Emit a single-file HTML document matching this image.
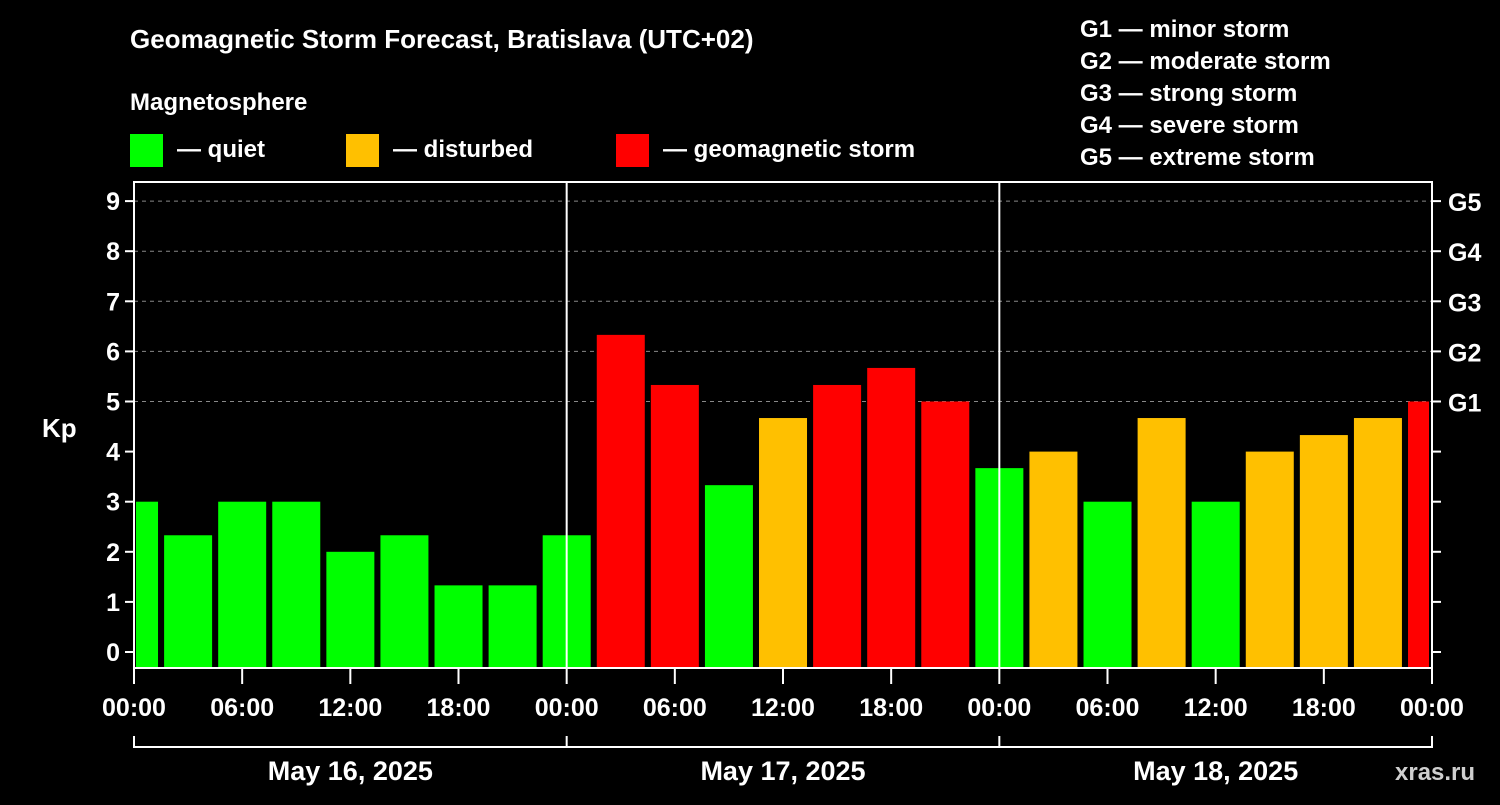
<!DOCTYPE html>
<html><head><meta charset="utf-8"><style>
body{margin:0;background:#000;}
svg text{font-family:"Liberation Sans",Arial,sans-serif;font-weight:bold;fill:#fff;}
</style></head><body>
<svg id="chart" width="1500" height="800" xmlns="http://www.w3.org/2000/svg">
<rect width="1500" height="800" fill="#000"/>
<text x="130" y="48" font-size="26">Geomagnetic Storm Forecast, Bratislava (UTC+02)</text>
<text x="130" y="110" font-size="24">Magnetosphere</text>
<g>
<rect x="130" y="134" width="33" height="33" fill="#00ff00"/>
<text x="177" y="157" font-size="24">— quiet</text>
<rect x="346" y="134" width="33" height="33" fill="#ffc000"/>
<text x="393" y="157" font-size="24">— disturbed</text>
<rect x="616" y="134" width="33" height="33" fill="#ff0000"/>
<text x="663" y="157" font-size="24">— geomagnetic storm</text>
</g>
<g font-size="24">
<text x="1080" y="37">G1 — minor storm</text>
<text x="1080" y="69">G2 — moderate storm</text>
<text x="1080" y="101">G3 — strong storm</text>
<text x="1080" y="133">G4 — severe storm</text>
<text x="1080" y="165">G5 — extreme storm</text>
</g>
<text x="42" y="437" font-size="26">Kp</text>
<text x="1395" y="780" font-size="24" fill="#ccc" style="fill:#cfcfcf">xras.ru</text>
<g id="plot"></g>
</svg>
<script>
const kpValues=[3,2.33,3,3,2,2.33,1.33,1.33,2.33,6.33,5.33,3.33,4.67,5.33,5.67,5,3.67,4,3,4.67,3,4,4.33,4.67,5];
const yTicks=[0,1,2,3,4,5,6,7,8,9];
const gLabels=["","","","","","G1","G2","G3","G4","G5"];
const xTickLabels=["00:00","06:00","12:00","18:00","00:00","06:00","12:00","18:00","00:00","06:00","12:00","18:00","00:00"];
const dayLabels=["May 16, 2025","May 17, 2025","May 18, 2025"];
const NS="http://www.w3.org/2000/svg";
const g=document.getElementById('plot');
const L=134,R=1432,T=182,B=668,Y0=652,PU=50.1;
const hoursTotal=72;
const xs=h=>L+(R-L)*h/hoursTotal;
const ys=v=>Y0-v*PU;
function mk(t,a,p){const e=document.createElementNS(NS,t);for(const k in a)e.setAttribute(k,a[k]);(p||g).appendChild(e);return e;}
// grid
yTicks.forEach(v=>{if(v>=5){const e=mk('line',{x1:L,x2:R,y1:ys(v),y2:ys(v),stroke:'#888','stroke-dasharray':'4,4','stroke-width':1});

}});
// bars
kpValues.forEach((v,i)=>{
 const h0=-1.5+3*i-1.33+0.33; // slot start offset
 let x1=xs(3*i-1.33)+0,x2=x1+48*(R-L)/(54*24)*1;
 x1=Math.max(x1,L+2);x2=Math.min(xs(3*i-1.33)+48,R-3);
 const c=v>=5?'#ff0000':(v>=4?'#ffc000':'#00ff00');
 const r=mk('rect',{x:x1,y:ys(v),width:x2-x1,height:B-ys(v),fill:c});
 
 
});
// day separators
[24,48].forEach(h=>{const e=mk('line',{x1:xs(h),x2:xs(h),y1:T,y2:B,stroke:'#fff','stroke-width':2});

});
// frame
const f=mk('rect',{x:L,y:T,width:R-L,height:B-T,fill:'none',stroke:'#fff','stroke-width':2});


// y ticks
yTicks.forEach((v,i)=>{
 const y=ys(v);
 mk('line',{x1:L-9,x2:L,y1:y,y2:y,stroke:'#fff','stroke-width':2});
 mk('line',{x1:R,x2:R+9,y1:y,y2:y,stroke:'#fff','stroke-width':2});
 const t=mk('text',{x:L-14,y:y+9,'font-size':25,'text-anchor':'end'});t.textContent=v;
 
 
 if(gLabels[i]){const t2=mk('text',{x:R+16,y:y+10,'font-size':25});t2.textContent=gLabels[i];
 
 }
});
// x ticks
xTickLabels.forEach((s,i)=>{
 const x=xs(6*i);
 mk('line',{x1:x,x2:x,y1:B,y2:B+16,stroke:'#fff','stroke-width':2});
 const t=mk('text',{x:x,y:716,'font-size':25,'text-anchor':'middle'});t.textContent=s;
 
 
});
// day bracket
mk('line',{x1:L,x2:R,y1:747,y2:747,stroke:'#fff','stroke-width':2});
[0,24,48,72].forEach(h=>mk('line',{x1:xs(h),x2:xs(h),y1:736,y2:748,stroke:'#fff','stroke-width':2}));
dayLabels.forEach((s,i)=>{const t=mk('text',{x:xs(24*i+12),y:780,'font-size':27,'text-anchor':'middle'});t.textContent=s;

});
</script>
</body></html>
